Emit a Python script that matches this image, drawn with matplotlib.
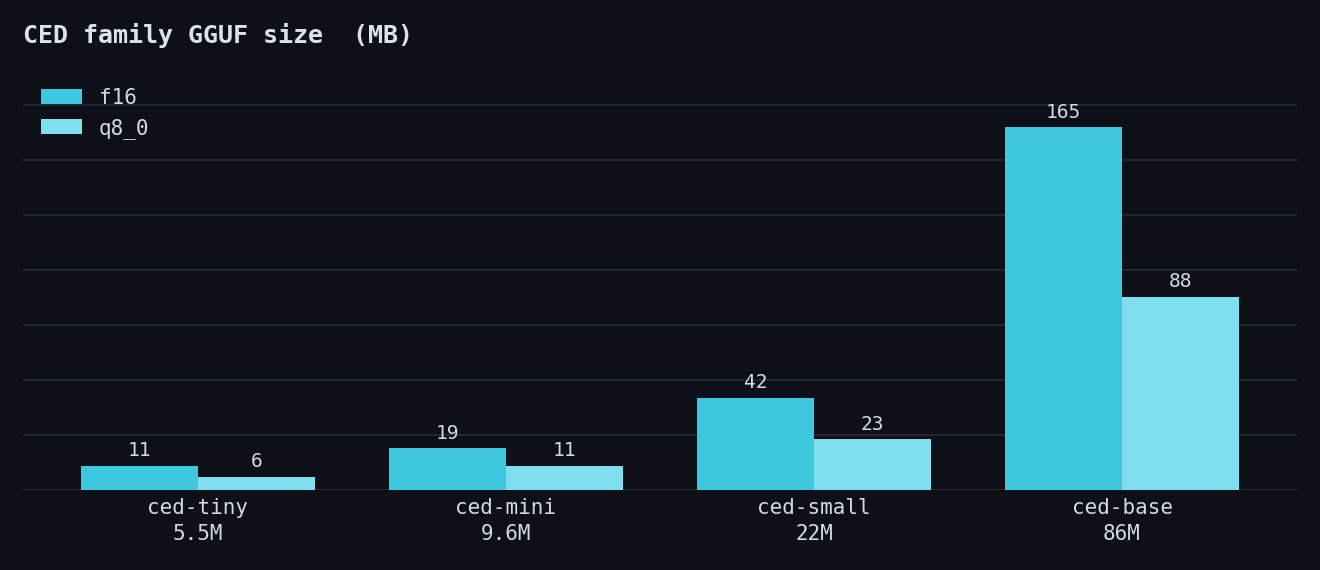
import numpy as np
import matplotlib
matplotlib.use("Agg")
import matplotlib.pyplot as plt

models = ["ced-tiny", "ced-mini", "ced-small", "ced-base"]
params = ["5.5M", "9.6M", "22M", "86M"]
f16_mb = [11, 19, 42, 165]
q8_mb = [6, 11, 23, 88]

BG = "#0d1017"
TXT = "#d5dae2"
GRID = "#22262e"
C_F16 = "#3ec8df"
C_Q8 = "#80dfef"

plt.rcParams["font.family"] = ["DejaVu Sans Mono", "DejaVu Sans"]

fig = plt.figure(figsize=(13.2, 5.7), dpi=100, facecolor=BG)
ax = fig.add_axes([23 / 1320, 80 / 570, 1274 / 1320, 399 / 570])
ax.set_facecolor(BG)

x = np.arange(len(models))
w = 0.38
b1 = ax.bar(x - w / 2, f16_mb, w, color=C_F16, label="f16", zorder=3)
b2 = ax.bar(x + w / 2, q8_mb, w, color=C_Q8, label="q8_0", zorder=3)

for bars in (b1, b2):
    for r in bars:
        ax.annotate(f"{r.get_height():g}", (r.get_x() + r.get_width() / 2, r.get_height()),
                    xytext=(0, 4), textcoords="offset points", ha="center", va="bottom",
                    color=TXT, fontsize=14)

ax.set_ylim(0, 181.5)
ax.set_yticks(np.arange(0, 176, 25))
ax.set_yticklabels([])
ax.tick_params(axis="y", length=0)
ax.grid(axis="y", color=GRID, linewidth=1.5, zorder=0)
ax.set_xticks(x)
ax.set_xticklabels([f"{m}\n{p}" for m, p in zip(models, params)], color=TXT, fontsize=15,
                   linespacing=1.35)
ax.tick_params(axis="x", length=0, pad=6)
for s in ax.spines.values():
    s.set_visible(False)

# legend oben links, ohne Rahmen
leg = ax.legend(loc="upper left", bbox_to_anchor=(0.0025, 1.045), frameon=False, fontsize=15,
                handlelength=2.0, handleheight=0.7, labelspacing=0.5, handletextpad=0.8,
                borderaxespad=0.3)
for t in leg.get_texts():
    t.set_color(TXT)

fig.text(23 / 1320, 1 - 35 / 570, "CED family GGUF size  (MB)", color="#dde1e8", fontsize=18,
         fontweight="bold", ha="left", va="center")

fig.savefig("out.png", dpi=100, facecolor=BG)
